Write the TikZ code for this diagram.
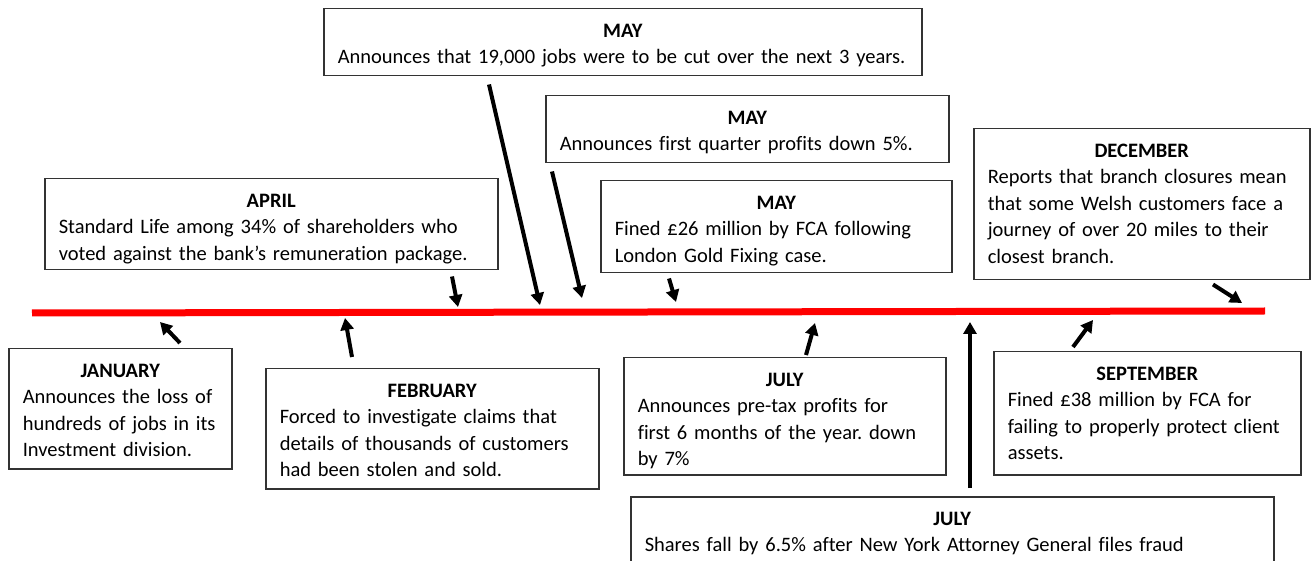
\documentclass[tikz,border=0pt]{standalone}
\usepackage{fontspec}
\setmainfont{Carlito}[Ligatures=NoCommon]
\usetikzlibrary{positioning}
\usetikzlibrary{calc}
\usetikzlibrary{arrows.meta}
\newcommand{\eventbox}[7]{
\pgfmathsetmacro\bw{(#4-#2)*0.5}
\pgfmathsetmacro\bh{(#5-#3)*0.5}
\pgfmathsetmacro\tw{\bw-14}
\pgfmathsetmacro\td{\bh-14.3}
\node[event, minimum width=\bw pt, text width=\tw pt, text height=14.3pt, text depth=\td pt]
  (#1) at (#2, #3) {\makebox[\tw pt]{\bfseries #6}\\
  \begin{tabular}[t]{@{}l@{}}#7\end{tabular}};
}
\tikzset{
  event/.style={draw=black!80, line width=0.75pt, fill=white, anchor=north west,
    inner xsep=7pt, inner ysep=0pt, align=left,
    font=\fontsize{10.25}{13.25}\selectfont\frenchspacing},
  pointer/.style={line width=2pt, -{Triangle[length=6pt, width=6.5pt]}},
  timeline/.style={red, line width=3.5pt}
}

\begin{document}
\begin{tikzpicture}[x=0.5pt, y=-0.5pt]
\useasboundingbox (0,0) rectangle (1313,561);
\clip (0,0) rectangle (1313,561);

\draw[timeline] (32,313) -- (1265,311);

\coordinate (t-jan) at (160,322);
\coordinate (t-feb) at (345,318);
\coordinate (t-apr) at (458,307);
\coordinate (t-maya) at (540,305);
\coordinate (t-mayb) at (582,298);
\coordinate (t-mayc) at (676,302);
\coordinate (t-dec) at (1242,303);
\coordinate (t-jula) at (815,323);
\coordinate (t-sep) at (1093,320);
\coordinate (t-julb) at (970,322);

\eventbox{jan}{8}{348}{231}{468}{JANUARY}{Announces the loss of\\hundreds of jobs in its\\Investment division.}
\eventbox{feb}{265}{368}{598}{488}{FEBRUARY}{Forced to investigate claims that\\details of thousands of customers\\had been stolen and sold.}
\eventbox{apr}{44}{178}{497}{269}{APRIL}{Standard Life among 34\% of shareholders who\\voted against the bank’s remuneration package.}
\eventbox{maya}{323}{8}{921}{75}{MAY}{Announces that 19,000 jobs were to be cut over the next 3 years.}
\eventbox{mayb}{545}{95}{948}{162}{MAY}{Announces first quarter profits down 5\%.}
\eventbox{mayc}{600}{180}{951}{272}{MAY}{Fined £26 million by FCA following\\London Gold Fixing case.}
\eventbox{dec}{973}{128}{1309}{279}{DECEMBER}{Reports that branch closures mean\\that some Welsh customers face a\\journey of over 20 miles to their\\closest branch.}
\eventbox{jula}{623}{357}{945}{474}{JULY}{Announces pre-tax profits for\\first 6 months of the year. down\\by 7\%}
\eventbox{sep}{993}{351}{1300}{474}{SEPTEMBER}{Fined £38 million by FCA for\\failing to properly protect client\\assets.}
\eventbox{julb}{630}{496}{1273}{566}{JULY}{Shares fall by 6.5\% after New York Attorney General files fraud}

\draw[pointer] ($(jan.north west)+(172,-5)$) -- (t-jan);
\draw[pointer] ($(feb.north west)+(87,-11)$) -- (t-feb);
\draw[pointer] ($(apr.south west)+(408,6)$) -- (t-apr);
\draw[pointer] ($(maya.south west)+(166,8)$) -- (t-maya);
\draw[pointer] ($(mayb.south west)+(7,8)$) -- (t-mayb);
\draw[pointer] ($(mayc.south west)+(69,5)$) -- (t-mayc);
\draw[pointer] ($(dec.south west)+(240,4)$) -- (t-dec);
\draw[pointer] ($(jula.north west)+(183,-2)$) -- (t-jula);
\draw[pointer] ($(sep.north west)+(80,-4)$) -- (t-sep);
\draw[pointer] ($(julb.north west)+(340,-8)$) -- (t-julb);
\end{tikzpicture}
\end{document}
